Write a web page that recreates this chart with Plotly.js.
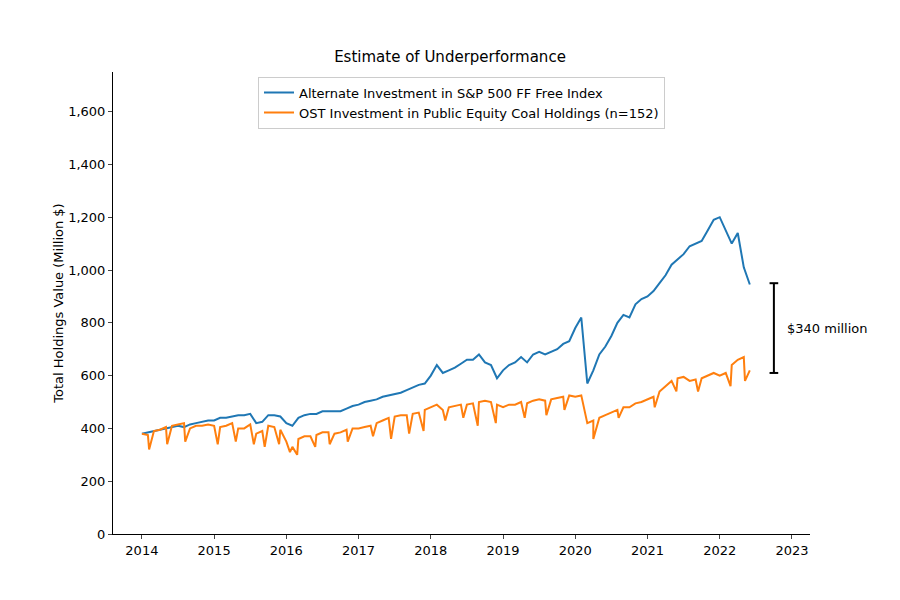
<!DOCTYPE html>
<html>
<head>
<meta charset="utf-8">
<script src="https://cdn.plot.ly/plotly-3.0.1.min.js"></script>
<style>body{margin:0}#chart{width:900px;height:600px}</style>
</head>
<body>
<div id="chart"></div>
<script>
// monthly values, Jan 2014 .. Jun 2022
var startYear = 2014;
var spxVals = [
  380,385,390,395,400,405,410,405,415,420,425,430,
  430,440,440,445,450,450,455,420,425,450,450,445,
  420,410,440,450,455,455,465,465,465,465,475,485,
  490,500,505,510,520,525,530,535,545,555,565,570,
  600,640,610,620,630,645,660,660,680,650,640,590,
  620,640,650,670,650,680,690,680,690,700,720,730,
  780,820,570,620,680,710,750,800,830,820,870,890,
  900,920,950,980,1020,1040,1060,1090,1100,1110,1150,1190,
  1200,1150,1100,1140,1010,945
];
var coalVals = [
  380,375,390,395,405,410,415,420,400,410,410,415,
  410,405,410,420,400,400,415,380,390,410,405,395,
  350,330,360,370,370,375,385,385,380,385,395,400,
  400,405,410,420,430,440,445,450,450,455,460,470,
  480,490,470,480,485,490,490,495,500,505,500,490,
  480,490,490,500,495,505,510,505,510,515,520,525,
  520,525,420,430,440,450,460,470,480,480,495,500,
  510,520,540,560,580,590,595,580,585,590,600,610,
  600,610,640,660,670,620
];
// sharp one-off drops in the coal holdings
var coalDipYears = [2014.1,2014.35,2014.6,2015.05,2015.3,2015.55,2015.7,2015.9,2016.05,2016.15,2016.4,2016.6,2016.85,2017.2,2017.45,2017.7,2017.9,2018.2,2018.45,2018.65,2018.9,2019.3,2019.6,2019.85,2020.25,2020.6,2021.1,2021.4,2021.7,2022.15,2022.35];
var coalDipVals  = [320,340,350,340,350,340,330,340,310,300,330,340,350,370,360,380,390,430,440,410,420,440,450,470,360,440,480,540,540,560,580];
var gapLow = 610, gapHigh = 950, gapX = 2022.75;

var months = spxVals.map(function(v, i){ return startYear + i/12; });
var coalPts = months.map(function(x, i){ return [x, coalVals[i]]; });
for (var i = 0; i < coalDipYears.length; i++) coalPts.push([coalDipYears[i], coalDipVals[i]]);
coalPts.sort(function(a, b){ return a[0] - b[0]; });

var traces = [
  {x: months, y: spxVals, mode: 'lines', line: {color: '#1f77b4', width: 2},
   name: 'Alternate Investment in S&P 500 FF Free Index'},
  {x: coalPts.map(function(p){return p[0];}), y: coalPts.map(function(p){return p[1];}),
   mode: 'lines', line: {color: '#ff7f0e', width: 2},
   name: 'OST Investment in Public Equity Coal Holdings (n=152)'}
];

var capW = 0.06;
var shapes = [
  {type: 'line', x0: gapX, x1: gapX, y0: gapLow, y1: gapHigh, line: {color: 'black', width: 2}},
  {type: 'line', x0: gapX - capW, x1: gapX + capW, y0: gapLow, y1: gapLow, line: {color: 'black', width: 2}},
  {type: 'line', x0: gapX - capW, x1: gapX + capW, y0: gapHigh, y1: gapHigh, line: {color: 'black', width: 2}}
];

Plotly.newPlot('chart', traces, {
  width: 900, height: 600,
  font: {family: 'DejaVu Sans', size: 13, color: 'black'},
  title: {text: 'Estimate of Underperformance', x: 0.5, y: 0.915, font: {size: 15}},
  margin: {l: 113, r: 90, t: 72, b: 66},
  paper_bgcolor: 'white', plot_bgcolor: 'white',
  showlegend: true,
  legend: {x: 0.5, xanchor: 'center', y: 0.99, yanchor: 'top', bordercolor: '#cccccc', borderwidth: 1, bgcolor: 'white', font: {size: 13}},
  xaxis: {range: [2013.6, 2023.25], tickvals: [2014,2015,2016,2017,2018,2019,2020,2021,2022,2023],
          ticktext: ['2014','2015','2016','2017','2018','2019','2020','2021','2022','2023'],
          showgrid: false, zeroline: false, showline: true, linecolor: 'black', ticks: 'outside', ticklen: 4},
  yaxis: {range: [0, 1750], tickvals: [0,200,400,600,800,1000,1200,1400,1600], tickformat: ',',
          showgrid: false, zeroline: false, showline: true, linecolor: 'black', ticks: 'outside', ticklen: 4,
          title: {text: 'Total Holdings Value (Million $)', font: {size: 13}}},
  shapes: shapes,
  annotations: [{x: gapX + 0.15, y: (gapLow + gapHigh) / 2, xanchor: 'left', text: '$340 million', showarrow: false, font: {size: 13}}]
}, {displayModeBar: false});
</script>
</body>
</html>
